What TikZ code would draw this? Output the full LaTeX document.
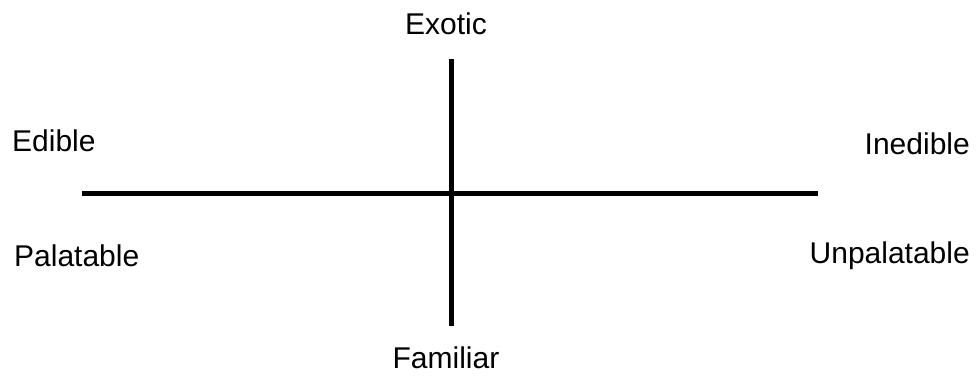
\documentclass[tikz,border=0pt]{standalone}
\usepackage{fontspec}
\setmainfont{Liberation Sans}
\begin{document}
\begin{tikzpicture}[x=1pt,y=-1pt,
  axis/.style={line width=5pt},
  lbl/.style={font=\fontsize{30}{32}\selectfont, inner sep=0pt}]
\useasboundingbox (0,0) rectangle (977,375);
\coordinate (L) at (82,193);
\coordinate (R) at (818,193);
\coordinate (T) at (451,59);
\coordinate (B) at (451,326);
\draw[axis] (L) -- (R);
\draw[axis] (T) -- (B);
\node[lbl] (exotic) at (446,24) {Exotic};
\node[lbl] (familiar) at (446,358) {Familiar};
\node[lbl,anchor=west] (edible) at (12,141) {Edible};
\node[lbl,anchor=east] (inedible) at (970,144) {Inedible};
\node[lbl,anchor=west] (palatable) at (14,256) {Palatable};
\node[lbl,anchor=east] (unpalatable) at (970,256) {Unpalatable};
\end{tikzpicture}
\end{document}
